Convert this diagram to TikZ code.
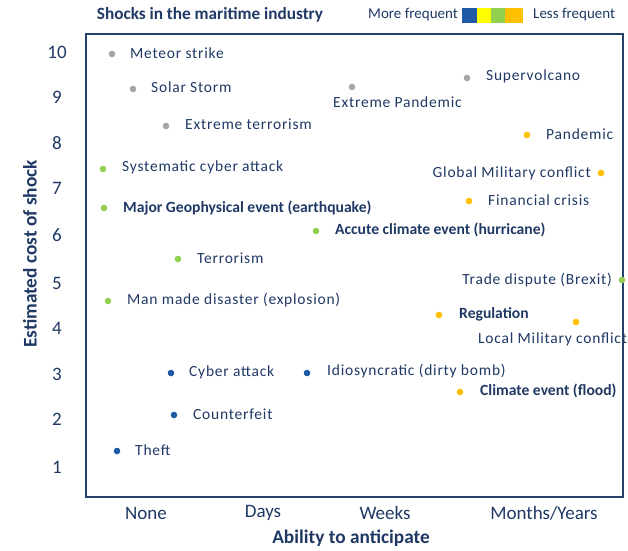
\documentclass[tikz,border=0pt]{standalone}
\usepackage{fontspec}
\setmainfont{Carlito}
\newfontfamily\lblfont[LetterSpace=5]{Carlito}
\definecolor{navy}{HTML}{1F3864}
\definecolor{framec}{HTML}{25406A}
\definecolor{dgray}{HTML}{A5A5A5}
\definecolor{dgreen}{HTML}{92D050}
\definecolor{dorange}{HTML}{FFC000}
\definecolor{dblue}{HTML}{1F5AA6}
\definecolor{dyellow}{HTML}{FFFF00}
\begin{document}
\begin{tikzpicture}[x=1pt,y=-1pt,
  dot/.style={circle,inner sep=0pt,minimum size=6.6pt},
  gdot/.style={dot,fill=dgray},
  grdot/.style={dot,fill=dgreen},
  odot/.style={dot,fill=dorange},
  bdot/.style={dot,fill=dblue},
  lbl/.style={anchor=west,inner sep=0pt,text=navy,font=\lblfont\fontsize{15.5}{18}\selectfont},
  blbl/.style={anchor=west,inner sep=0pt,text=navy,font=\fontsize{15.6}{18}\selectfont\bfseries},
  ticklbl/.style={inner sep=0pt,text=navy,font=\fontsize{19}{22}\selectfont},
  axtitle/.style={inner sep=0pt,text=navy,font=\fontsize{19.3}{22}\selectfont\bfseries},
  legsq/.style={inner sep=0pt,minimum height=15pt,anchor=north west}
]
\useasboundingbox (0,0) rectangle (628,550);
% header
\node[inner sep=0pt,text=navy,font=\fontsize{17.2}{20}\selectfont\bfseries] (title) at (210,15) {Shocks in the maritime industry};
\node[anchor=west,inner sep=0pt,text=navy,font=\fontsize{15}{18}\selectfont] (more) at (368,15) {More frequent};
\node[legsq,minimum width=15pt,fill=dblue] (sq1) at (462,7.5) {};
\node[legsq,minimum width=14pt,fill=dyellow] (sq2) at (477,7.5) {};
\node[legsq,minimum width=14pt,fill=dgreen] (sq3) at (491,7.5) {};
\node[legsq,minimum width=18pt,fill=dorange] (sq4) at (505,7.5) {};
\node[anchor=west,inner sep=0pt,text=navy,font=\fontsize{15}{18}\selectfont] (less) at (533,15) {Less frequent};
% frame
\draw[framec,line width=1.5pt] (86,34) rectangle (623,497);
% y ticks
\node[ticklbl] (y10) at (57,52) {10};
\node[ticklbl] (y9) at (57,97) {9};
\node[ticklbl] (y8) at (57,143) {8};
\node[ticklbl] (y7) at (57,188) {7};
\node[ticklbl] (y6) at (57,235) {6};
\node[ticklbl] (y5) at (57,283) {5};
\node[ticklbl] (y4) at (57,328) {4};
\node[ticklbl] (y3) at (57,374) {3};
\node[ticklbl] (y2) at (57,419) {2};
\node[ticklbl] (y1) at (57,467) {1};
% x ticks
\node[ticklbl] (xnone) at (146,513) {None};
\node[ticklbl] (xdays) at (263,513) {Days};
\node[ticklbl] (xweeks) at (385,513) {Weeks};
\node[ticklbl] (xmonths) at (544,513) {Months/Years};
% axis titles
\node[axtitle] (xtitle) at (351,538) {Ability to anticipate};
\node[axtitle,rotate=90] (ytitle) at (30,254) {Estimated cost of shock};
% points
\node[gdot] (meteor) at (112,54) {};
\node[lbl] (meteorL) at (130,53) {Meteor strike};
\node[gdot] (solar) at (133,89) {};
\node[lbl] (solarL) at (151,87) {Solar Storm};
\node[gdot] (xterror) at (166,126) {};
\node[lbl] (xterrorL) at (185,124) {Extreme terrorism};
\node[gdot] (xpand) at (352,87) {};
\node[lbl] (xpandL) at (333,102) {Extreme Pandemic};
\node[gdot] (volc) at (467,78) {};
\node[lbl] (volcL) at (486,76) {Supervolcano};
\node[grdot] (syscyber) at (103,169) {};
\node[lbl] (syscyberL) at (122,167) {Systematic cyber attack};
\node[grdot] (geo) at (104,208) {};
\node[blbl] (geoL) at (123,208) {Major Geophysical event (earthquake)};
\node[grdot] (hurr) at (316,231) {};
\node[blbl] (hurrL) at (335,230) {Accute climate event (hurricane)};
\node[grdot] (terror) at (178,259) {};
\node[lbl] (terrorL) at (197,258) {Terrorism};
\node[grdot] (manmade) at (108,301) {};
\node[lbl] (manmadeL) at (127,300) {Man made disaster (explosion)};
\node[odot] (pandemic) at (527,135) {};
\node[lbl] (pandemicL) at (546,134) {Pandemic};
\node[odot] (globalmil) at (601,173) {};
\node[lbl,anchor=east] (globalmilL) at (591,173) {Global Military conflict};
\node[odot] (fin) at (469,201) {};
\node[lbl] (finL) at (488,200) {Financial crisis};
\node[lbl,anchor=east] (tradeL) at (612,280) {Trade dispute (Brexit)};
\node[grdot] (trade) at (622,280) {};
\node[odot] (reg) at (439,315) {};
\node[blbl] (regL) at (459,314) {Regulation};
\node[odot] (localmil) at (576,322) {};
\node[lbl] (localmilL) at (478,339) {Local Military conflict};
\node[odot] (flood) at (460,392) {};
\node[blbl] (floodL) at (480,391) {Climate event (flood)};
\node[bdot] (cyber) at (171,373) {};
\node[lbl] (cyberL) at (189,372) {Cyber attack};
\node[bdot] (idio) at (307,373) {};
\node[lbl] (idioL) at (327,371) {Idiosyncratic (dirty bomb)};
\node[bdot] (counter) at (174,415) {};
\node[lbl] (counterL) at (193,414) {Counterfeit};
\node[bdot] (theft) at (117,451) {};
\node[lbl] (theftL) at (135,450) {Theft};
\end{tikzpicture}
\end{document}
